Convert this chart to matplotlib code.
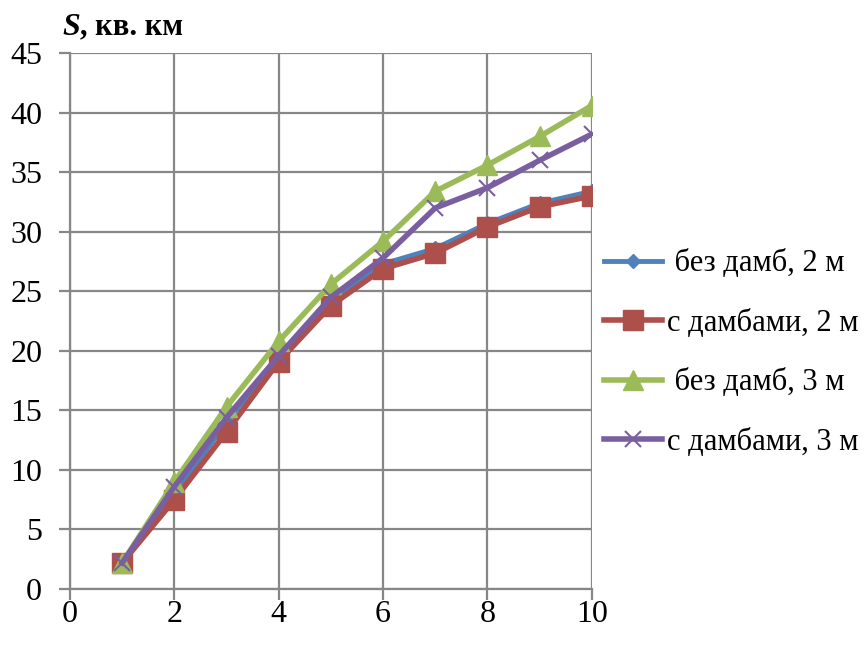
import matplotlib
matplotlib.use('Agg')
import matplotlib.pyplot as plt

plt.rcParams['font.family'] = ['Liberation Serif', 'DejaVu Serif']

# Flooded area vs. water level rise, with and without dams
x = [1, 2, 3, 4, 5, 6, 7, 8, 9, 10]
no_dams_2m = [2.2, 8.0, 14.0, 19.5, 24.2, 27.3, 28.6, 30.7, 32.4, 33.4]
dams_2m = [2.2, 7.5, 13.2, 19.1, 23.8, 26.9, 28.2, 30.4, 32.1, 33.0]
no_dams_3m = [2.2, 9.0, 15.3, 20.8, 25.6, 29.2, 33.4, 35.6, 38.0, 40.6]
dams_3m = [2.2, 8.6, 14.4, 19.6, 24.5, 27.8, 32.0, 33.7, 36.0, 38.2]

labels = [' без дамб, 2 м', 'с дамбами, 2 м', ' без дамб, 3 м', 'с дамбами, 3 м']
x_ticks = [0, 2, 4, 6, 8, 10]
y_ticks = [0, 5, 10, 15, 20, 25, 30, 35, 40, 45]

fig = plt.figure(figsize=(8.64, 6.48), dpi=100)
ax = fig.add_axes([0.081, 0.091, 0.604, 0.827])

ax.plot(x, no_dams_2m, color='#4F81BD', lw=3.5, marker='D', ms=7,
        label=labels[0])
ax.plot(x, dams_2m, color='#AD4F4B', lw=4, marker='s', ms=14,
        label=labels[1])
ax.plot(x, no_dams_3m, color='#9BBB59', lw=4, marker='^', ms=14,
        label=labels[2])
ax.plot(x, dams_3m, color='#7A5FA0', lw=4, marker='x', ms=12, mew=1.5,
        label=labels[3])

ax.set_xlim(0, 10)
ax.set_ylim(0, 45)
ax.set_xticks(x_ticks)
ax.set_yticks(y_ticks)
ax.grid(True, color='#878787', lw=1.6)
ax.set_axisbelow(True)
for side in ['top', 'right']:
    ax.spines[side].set_visible(False)
for side in ['left', 'bottom']:
    ax.spines[side].set_color('#878787')
    ax.spines[side].set_linewidth(1.6)
ax.tick_params(axis='both', which='major', length=8, width=1.6,
               color='#878787', labelsize=23)
ax.tick_params(axis='y', pad=12)
ax.tick_params(axis='x', pad=0)

# axis title: italic S followed by the units
s_txt = fig.text(0.072, 0.958, 'S', fontsize=23, fontweight='bold',
                 fontstyle='italic', va='center')
ax.annotate(', кв. км', xy=(1, 0), xycoords=s_txt, va='bottom',
            fontsize=22, fontweight='bold', annotation_clip=False)

ax.legend(loc='center left', bbox_to_anchor=(0.699, 0.455),
          bbox_transform=fig.transFigure, frameon=False, fontsize=22,
          handlelength=1.9, handletextpad=0.15, labelspacing=1.0,
          borderaxespad=0, borderpad=0)

fig.savefig('out.png', dpi=100)
